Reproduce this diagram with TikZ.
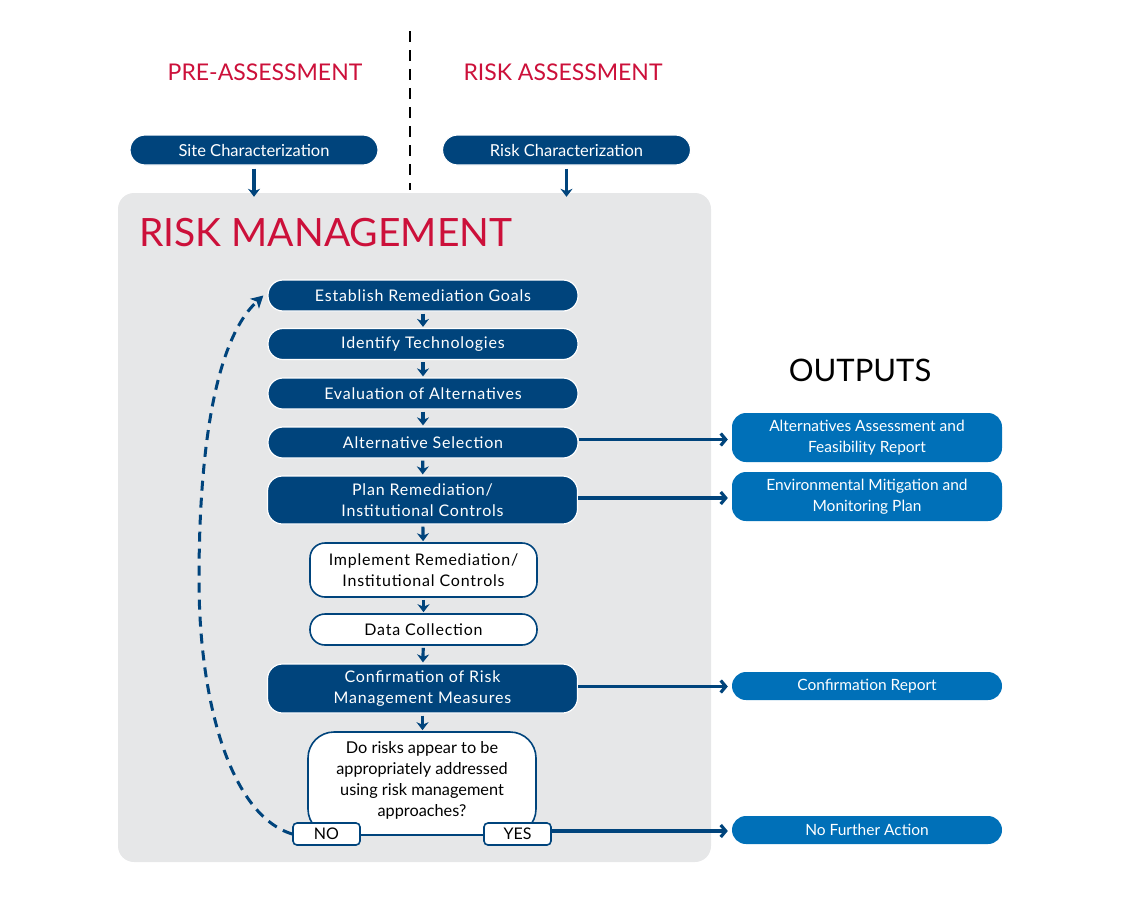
\documentclass[tikz,border=0pt]{standalone}
\usepackage{fontspec}
\setmainfont{Lato}
\newfontfamily\trk[LetterSpace=5]{Lato}
\usetikzlibrary{arrows.meta}
\definecolor{dblue}{RGB}{0,68,124}
\definecolor{mblue}{RGB}{0,112,184}
\definecolor{rmred}{RGB}{204,16,58}
\definecolor{pgray}{RGB}{230,231,232}
\begin{document}
\begin{tikzpicture}[x=1pt,y=-1pt,
  phase/.style={text=rmred, font=\fontsize{23}{28}\selectfont, inner sep=0pt},
  darkbox/.style={fill=dblue, draw=white, line width=1.2pt, text=white, rounded corners=15pt,
    minimum width=310pt, minimum height=31pt, align=center, inner sep=0pt,
    font=\trk\fontsize{16}{21.5}\selectfont},
  whitebox/.style={fill=white, draw=dblue, line width=1.6pt, text=black, rounded corners=15pt,
    minimum width=227pt, minimum height=31pt, align=center, inner sep=0pt,
    font=\trk\fontsize{16}{21.5}\selectfont},
  topbox/.style={fill=dblue, draw=white, line width=1.2pt, text=white, rounded corners=15pt,
    minimum width=248pt, minimum height=30pt, inner sep=0pt,
    font=\fontsize{16.5}{18}\selectfont},
  outbox/.style={fill=mblue, text=white, rounded corners=14pt, minimum width=270pt,
    minimum height=49pt, align=center, inner sep=0pt, font=\fontsize{15.5}{21}\selectfont},
  answer/.style={fill=white, draw=dblue, line width=1.6pt, rounded corners=4pt,
    minimum width=67pt, minimum height=22pt, inner sep=0pt, font=\fontsize{16}{18}\selectfont},
  darr/.style={draw=dblue, line width=3.2pt, -{Stealth[length=8pt,width=12pt,inset=2.5pt]},
    shorten <=2pt, shorten >=1pt},
  rarr/.style={draw=dblue, line width=3.2pt, -{Straight Barb[length=5pt,width=12pt]},
    shorten >=4pt}
]
\path[use as bounding box] (0,0) rectangle (1140,910);

% phase titles and divider
\node[phase] (pre) at (265,72) {PRE-ASSESSMENT};
\node[phase] (ra) at (563,72) {RISK ASSESSMENT};
\draw[line width=2pt, dash pattern=on 11pt off 8pt] (410,31) -- (410,190);

\node[topbox] (site) at (254,150) {Site Characterization};
\node[topbox] (risk) at (566.5,150) {Risk Characterization};

% panel
\node[fill=pgray, rounded corners=16pt, minimum width=593pt, minimum height=669pt, inner sep=0pt]
  (panel) at (414.5,527.5) {};
\node[anchor=west, text=rmred, font=\fontsize{39}{42}\selectfont, inner sep=0pt]
  (rm) at (139,233) {RISK MANAGEMENT};

\draw[darr, shorten <=3pt] (site.south) -- ([yshift=-5pt]site.south |- panel.north);
\draw[darr, shorten <=3pt] (risk.south) -- ([yshift=-5pt]risk.south |- panel.north);

% flow
\node[darkbox] (g1) at (423,295.5) {Establish Remediation Goals};
\node[darkbox] (g2) at (423,344) {Identify Technologies};
\node[darkbox] (g3) at (423,393.5) {Evaluation of Alternatives};
\node[darkbox] (g4) at (423,442.5) {Alternative Selection};
\node[darkbox, minimum height=48pt] (g5) at (422.5,500) {Plan Remediation/\\Institutional Controls};
\node[whitebox, minimum height=54pt] (g6) at (423.5,570) {Implement Remediation/\\Institutional Controls};
\node[whitebox] (g7) at (423.5,629.5) {Data Collection};
\node[darkbox, minimum height=49pt] (g8) at (422.5,688.5) {Confirmation of Risk\\Management Measures};
\node[fill=white, draw=dblue, line width=1.6pt, rounded corners=26pt, minimum width=228pt,
  minimum height=103pt, align=center, inner sep=0pt, font=\fontsize{16.3}{21}\selectfont]
  (dec) at (422,783.5) {Do risks appear to be\\appropriately addressed\\using risk management\\approaches?\\[-12pt]};
\node[answer] (no) at (326.5,834) {NO};
\node[answer] (yes) at (517.5,834) {YES};

\foreach \a/\b in {g1/g2,g2/g3,g3/g4,g4/g5,g5/g6,g6/g7,g7/g8}
  \draw[darr] (\a) -- (\b);
\draw[darr] (g8.south) -- (g8.south |- dec.north);

% outputs
\node[font=\fontsize{31}{34}\selectfont, inner sep=0pt] (outs) at (860,370) {OUTPUTS};
\node[outbox] (o1) at (867,437.5) {Alternatives Assessment and\\Feasibility Report};
\node[outbox] (o2) at (867,496.5) {Environmental Mitigation and\\Monitoring Plan};
\node[outbox, minimum height=28pt] (o3) at (867,686) {Confirmation Report};
\node[outbox, minimum height=28pt] (o4) at (867,830) {No Further Action};

\draw[rarr] ([yshift=3pt]g4.east) -- ([yshift=3pt]g4.east -| o1.west);
\draw[rarr] ([yshift=2pt]g5.east) -- ([yshift=2pt]g5.east -| o2.west);
\draw[rarr] ([yshift=2pt]g8.east) -- ([yshift=2pt]g8.east -| o3.west);
\draw[rarr] ([yshift=3pt]yes.east) -- ([yshift=3pt]yes.east -| o4.west);

% loop back
\coordinate (loopmid) at (199,580);
\coordinate (looptip) at ([xshift=-4pt]g1.west);
\draw[draw=dblue, line width=3pt, dash pattern=on 10pt off 7pt,
  -{Stealth[length=12pt,width=13pt,inset=3pt]}]
  (no.west) .. controls (230,815) and (199,700) .. (loopmid)
  .. controls (199,450) and (215,340) .. (looptip);
\end{tikzpicture}
\end{document}
